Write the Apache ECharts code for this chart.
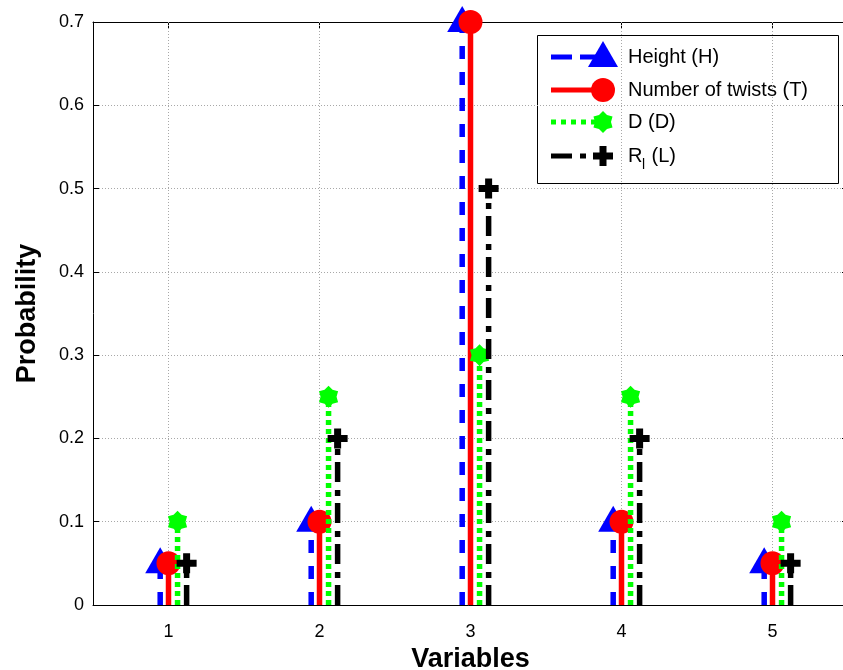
<!DOCTYPE html>
<html><head><meta charset="utf-8">
<script src="https://cdn.jsdelivr.net/npm/echarts@6/dist/echarts.min.js"></script>
<style>html,body{margin:0;padding:0;background:#fff;overflow:hidden}#c{width:843px;height:670px}</style>
</head><body><div id="c"></div>
<script>
// ---- data ----
const variables = [1, 2, 3, 4, 5];
const heightH = [0.05, 0.1, 0.7, 0.1, 0.05];
const twistsT = [0.05, 0.1, 0.7, 0.1, 0.05];
const diameterD = [0.1, 0.25, 0.3, 0.25, 0.1];
const rlL = [0.05, 0.2, 0.5, 0.2, 0.05];
const xTicks = [1, 2, 3, 4, 5];
const yTicks = [0, 0.1, 0.2, 0.3, 0.4, 0.5, 0.6, 0.7];
const seriesNames = ['Height (H)', 'Number of twists (T)', 'D (D)', 'R_l (L)'];

const FONT = 'Liberation Sans, Arial, Helvetica, sans-serif';

function markerShape(kind, cx, cy, color) {
  if (kind === 'triangle') {
    return {type: 'polygon', shape: {points: [[cx, cy - 16], [cx - 15, cy + 10], [cx + 15, cy + 10]]}, style: {fill: color}};
  }
  if (kind === 'circle') {
    return {type: 'circle', shape: {cx: cx, cy: cy, r: 12}, style: {fill: color}};
  }
  if (kind === 'hexagram') {
    const pts = [];
    for (let k = 0; k < 12; k++) {
      const a = -Math.PI / 2 + k * Math.PI / 6;
      const r = (k % 2 === 0) ? 11 : 8;
      pts.push([cx + r * Math.cos(a), cy + r * Math.sin(a)]);
    }
    return {type: 'polygon', shape: {points: pts}, style: {fill: color}};
  }
  // plus
  const a = 10, t = 3.5;
  return {type: 'polygon', shape: {points: [
    [cx - t, cy - a], [cx + t, cy - a], [cx + t, cy - t], [cx + a, cy - t], [cx + a, cy + t], [cx + t, cy + t],
    [cx + t, cy + a], [cx - t, cy + a], [cx - t, cy + t], [cx - a, cy + t], [cx - a, cy - t], [cx - t, cy - t]
  ]}, style: {fill: color}};
}

const specs = [
  {name: seriesNames[0], values: heightH, color: '#0000ff', dash: [13, 13], offset: -0.055, marker: 'triangle'},
  {name: seriesNames[1], values: twistsT, color: '#ff0000', dash: null, offset: 0, marker: 'circle'},
  {name: seriesNames[2], values: diameterD, color: '#00ff00', dash: [5, 4], offset: 0.06, marker: 'hexagram'},
  {name: seriesNames[3], values: rlL, color: '#000000', dash: [20, 7, 6, 8], offset: 0.12, marker: 'plus'}
];

function stemRender(spec) {
  return function (params, api) {
    const x = api.value(0) + spec.offset;
    const base = api.coord([x, 0]);
    const top = api.coord([x, api.value(1)]);
    return {type: 'group', children: [
      {type: 'line', shape: {x1: base[0], y1: base[1], x2: top[0], y2: top[1]},
       style: {stroke: spec.color, lineWidth: 5.5, lineDash: spec.dash || null}},
      markerShape(spec.marker, top[0], top[1], spec.color)
    ]};
  };
}

const gridSeries = {
  type: 'custom', silent: true, z: 1, animation: false,
  data: xTicks.map(v => [v]),
  renderItem: function (params, api) {
    const p0 = api.coord([api.value(0), yTicks[0]]);
    const p1 = api.coord([api.value(0), yTicks[yTicks.length - 1]]);
    return {type: 'line', shape: {x1: p0[0], y1: p0[1], x2: p1[0], y2: p1[1]},
            style: {stroke: '#a8a8a8', lineWidth: 1, lineDash: [1, 2]}};
  }
};

const stemSeries = specs.map((s, i) => ({
  type: 'custom', name: s.name, z: 3 + i, animation: false, clip: false,
  data: variables.map((v, j) => [v, s.values[j]]),
  renderItem: stemRender(s)
}));

// legend (drawn as graphic)
const LX = 537, LY = 35, LW = 301, LH = 148;
const rowY = [57, 90, 122, 156];
const legendDash = [[21, 8], null, [5, 5], [21, 8, 6, 8]];
const legendChildren = [
  {type: 'rect', shape: {x: LX + 0.5, y: LY + 0.5, width: LW, height: LH}, style: {fill: '#fff', stroke: '#000', lineWidth: 1}}
];
specs.forEach((s, i) => {
  legendChildren.push({type: 'line', shape: {x1: 551, y1: rowY[i], x2: 600, y2: rowY[i]},
    style: {stroke: s.color, lineWidth: 5, lineDash: legendDash[i]}});
  legendChildren.push(markerShape(s.marker, 603, rowY[i], s.color));
});
const legendTexts = ['Height (H)', 'Number of twists (T)', 'D (D)'];
legendTexts.forEach((t, i) => {
  legendChildren.push({type: 'text', x: 628, y: rowY[i], style: {text: t, font: '20px ' + FONT, fill: '#000', verticalAlign: 'middle'}});
});
legendChildren.push({type: 'text', x: 628, y: rowY[3], style: {text: 'R', font: '20px ' + FONT, fill: '#000', verticalAlign: 'middle'}});
legendChildren.push({type: 'text', x: 642, y: rowY[3] + 9, style: {text: 'l', font: '14px ' + FONT, fill: '#000', verticalAlign: 'middle'}});
legendChildren.push({type: 'text', x: 646, y: rowY[3], style: {text: ' (L)', font: '20px ' + FONT, fill: '#000', verticalAlign: 'middle'}});

const axisLineStyle = {color: '#000', width: 1};
const option = {
  backgroundColor: '#fff',
  animation: false,
  grid: {left: 93, width: 755, top: 22, bottom: 65, containLabel: false, outerBoundsMode: 'none'},
  xAxis: [
    {type: 'value', min: 0.5, max: 5.5, position: 'bottom',
     axisLine: {show: true, onZero: false, lineStyle: axisLineStyle},
     axisTick: {show: true, inside: true, length: 6, customValues: xTicks, lineStyle: axisLineStyle},
     axisLabel: {show: true, customValues: xTicks, fontSize: 18, fontFamily: FONT, color: '#000', margin: 18},
     splitLine: {show: false},
     name: 'Variables', nameLocation: 'middle', nameGap: 37,
     nameTextStyle: {fontSize: 27, fontWeight: 'bold', fontFamily: FONT, color: '#000'}},
    {type: 'value', min: 0.5, max: 5.5, position: 'top',
     axisLine: {show: true, onZero: false, lineStyle: axisLineStyle},
     axisTick: {show: true, inside: true, length: 6, customValues: xTicks, lineStyle: axisLineStyle},
     axisLabel: {show: false}, splitLine: {show: false}}
  ],
  yAxis: [
    {type: 'value', min: 0, max: 0.7, interval: 0.1, position: 'left',
     axisLine: {show: true, onZero: false, lineStyle: axisLineStyle},
     axisTick: {show: true, inside: true, length: 6, lineStyle: axisLineStyle},
     axisLabel: {fontSize: 18, fontFamily: FONT, color: '#000', margin: 9,
                 formatter: v => (v === 0 ? '0' : v.toFixed(1))},
     splitLine: {show: true, lineStyle: {color: '#a8a8a8', width: 1, type: [1, 2]}},
     name: 'Probability', nameLocation: 'middle', nameGap: 52, nameRotate: 90,
     nameTextStyle: {fontSize: 27, fontWeight: 'bold', fontFamily: FONT, color: '#000'}},
    {type: 'value', min: 0, max: 0.7, interval: 0.1, position: 'right',
     axisLine: {show: true, onZero: false, lineStyle: axisLineStyle},
     axisTick: {show: true, inside: true, length: 6, lineStyle: axisLineStyle},
     axisLabel: {show: false}, splitLine: {show: false}}
  ],
  series: [gridSeries].concat(stemSeries),
  graphic: [{type: 'group', z: 100, children: legendChildren}]
};

const chart = echarts.init(document.getElementById('c'), null, {renderer: 'canvas'});
chart.setOption(option);
</script>
</body></html>
